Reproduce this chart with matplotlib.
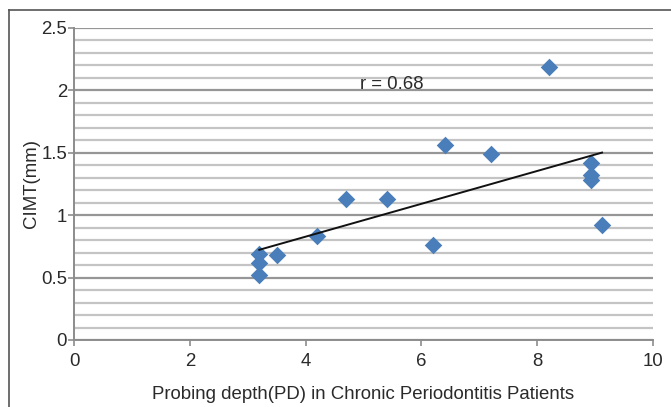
import matplotlib
matplotlib.use("Agg")
import matplotlib.pyplot as plt
import numpy as np
from matplotlib.ticker import MultipleLocator

plt.rcParams['font.family'] = ['Liberation Sans', 'DejaVu Sans']

# Data
pd_depth = [3.2, 3.2, 3.2, 3.5, 4.2, 4.7, 5.4, 6.2, 6.4, 7.2, 8.2, 8.93, 8.93, 8.93, 9.12]
cimt = [0.69, 0.62, 0.52, 0.68, 0.83, 1.13, 1.13, 0.76, 1.56, 1.49, 2.19, 1.42, 1.32, 1.28, 0.92]
r_label = "r = 0.68"

FS = 13.4

fig = plt.figure(figsize=(6.71, 4.07), dpi=100)
# outer chart border (top & left visible)
fig.add_artist(plt.Line2D([9/671, 9/671], [0, 1 - 10/407], color='#555555', lw=1.2))
fig.add_artist(plt.Line2D([9/671, 1], [1 - 10/407, 1 - 10/407], color='#555555', lw=1.2))

ax = fig.add_axes([74/671, 1 - 340/407, (653 - 74)/671, (340 - 28)/407])
ax.set_xlim(0, 10)
ax.set_ylim(0, 2.5)
ax.xaxis.set_major_locator(MultipleLocator(2))
ax.yaxis.set_minor_locator(MultipleLocator(0.1))
ax.set_yticks([0, 0.5, 1, 1.5, 2, 2.5])
ax.set_yticklabels(['0', '0.5', '1', '1.5', '2', '2.5'])

ax.grid(True, which='minor', axis='y', color='#c4c4c4', lw=1.6, zorder=0)
ax.grid(True, which='major', axis='y', color='#969696', lw=1.6, zorder=0)
ax.set_axisbelow(True)
ax.tick_params(which='minor', length=0)
ax.tick_params(which='major', length=4, color='#8c8c8c', width=1.2, labelsize=FS, labelcolor='#2a2a2a')
ax.tick_params(axis='x', pad=5)
ax.tick_params(axis='y', pad=1)

for s in ['top', 'right']:
    ax.spines[s].set_visible(False)
for s in ['left', 'bottom']:
    ax.spines[s].set_color('#8c8c8c')
    ax.spines[s].set_linewidth(1.4)

ax.scatter(pd_depth, cimt, marker='D', s=80, color='#4a7ebb', zorder=3, linewidths=0)

coef = np.polyfit(pd_depth, cimt, 1)
xs = np.array([min(pd_depth), max(pd_depth)])
ax.plot(xs, np.polyval(coef, xs), color='#111111', lw=1.4, zorder=4)

ax.text(5.49, 2.05, r_label, ha='center', va='center', fontsize=FS, color='#2a2a2a')

ax.set_xlabel("Probing depth(PD) in Chronic Periodontitis Patients", fontsize=FS, color='#2a2a2a', labelpad=12)
ax.set_ylabel("CIMT(mm)", fontsize=FS, color='#2a2a2a', labelpad=1)

fig.savefig("out.png", dpi=100)
